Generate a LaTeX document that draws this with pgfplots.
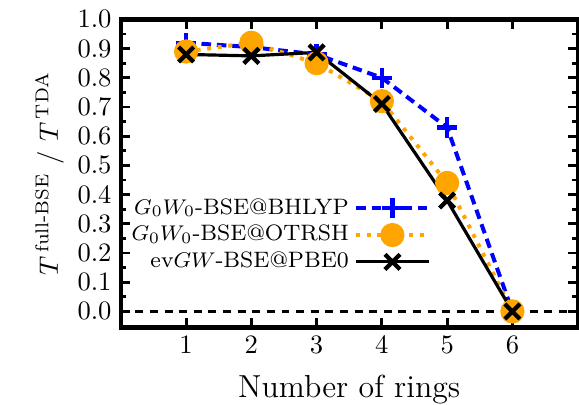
\documentclass[border=0pt]{standalone}
\usepackage{pgfplots}
\pgfplotsset{compat=1.18}
\usepackage{amsmath}
\definecolor{myblue}{RGB}{0,0,255}
\definecolor{myorange}{RGB}{255,165,0}
\begin{document}
\begin{tikzpicture}
\begin{axis}[
  scale only axis,
  width=172pt, height=116pt,
  xmin=0, xmax=7, ymin=-0.055, ymax=1.0,
  xtick={1,2,3,4,5,6},
  ytick={0,0.1,...,1.0},
  minor y tick num=1,
  tick align=inside,
  major tick length=3.5pt,
  minor tick length=2pt,
  every tick/.style={line width=1.1pt, black},
  axis line style={line width=1.6pt},
  yticklabel style={/pgf/number format/.cd, fixed, fixed zerofill, precision=1},
  xlabel={Number of rings},
  ylabel={$T^{\,\mathrm{full\text{-}BSE}}$ / $T^{\,\mathrm{TDA}}$},
  ylabel style={yshift=-2pt},
  xlabel style={font=\large, yshift=-1pt},
  legend style={draw=none, fill=none, font=\fontsize{8.4}{10}\selectfont, at={(0.345,0.30)}, anchor=center, row sep=-1.3pt},
  legend cell align=right,
  legend plot pos=right,
  legend image code/.code={\draw[mark repeat=2,mark phase=2,#1] plot coordinates {(0cm,0cm) (0.48cm,0cm) (0.96cm,0cm)};},
]
\addplot[forget plot, black, dashed, line width=0.9pt, dash pattern=on 3pt off 2.5pt] coordinates {(0,0) (7,0)};
\addplot[myblue, line width=1.5pt, dash pattern=on 3.6pt off 2.2pt, mark=+, mark size=3.8pt, mark options={solid, line width=1.6pt}]
  coordinates {(1,0.92) (2,0.905) (3,0.88) (4,0.80) (5,0.63) (6,0.0)};
\addlegendentry{$G_0W_0$-BSE@BHLYP}
\addplot[myorange, line width=1.5pt, dash pattern=on 1.5pt off 2.5pt, mark=*, mark size=3.8pt, mark options={solid}]
  coordinates {(1,0.89) (2,0.92) (3,0.85) (4,0.72) (5,0.44) (6,0.0)};
\addlegendentry{$G_0W_0$-BSE@OTRSH}
\addplot[black, line width=1.2pt, mark=x, mark size=4pt, mark options={solid, line width=1.6pt}]
  coordinates {(1,0.88) (2,0.875) (3,0.887) (4,0.71) (5,0.38) (6,0.0)};
\addlegendentry{ev$GW$-BSE@PBE0}
\end{axis}
\pgfresetboundingbox
\path (-45.5pt,-29pt) rectangle (172.5pt,123.3pt);
\end{tikzpicture}
\end{document}
